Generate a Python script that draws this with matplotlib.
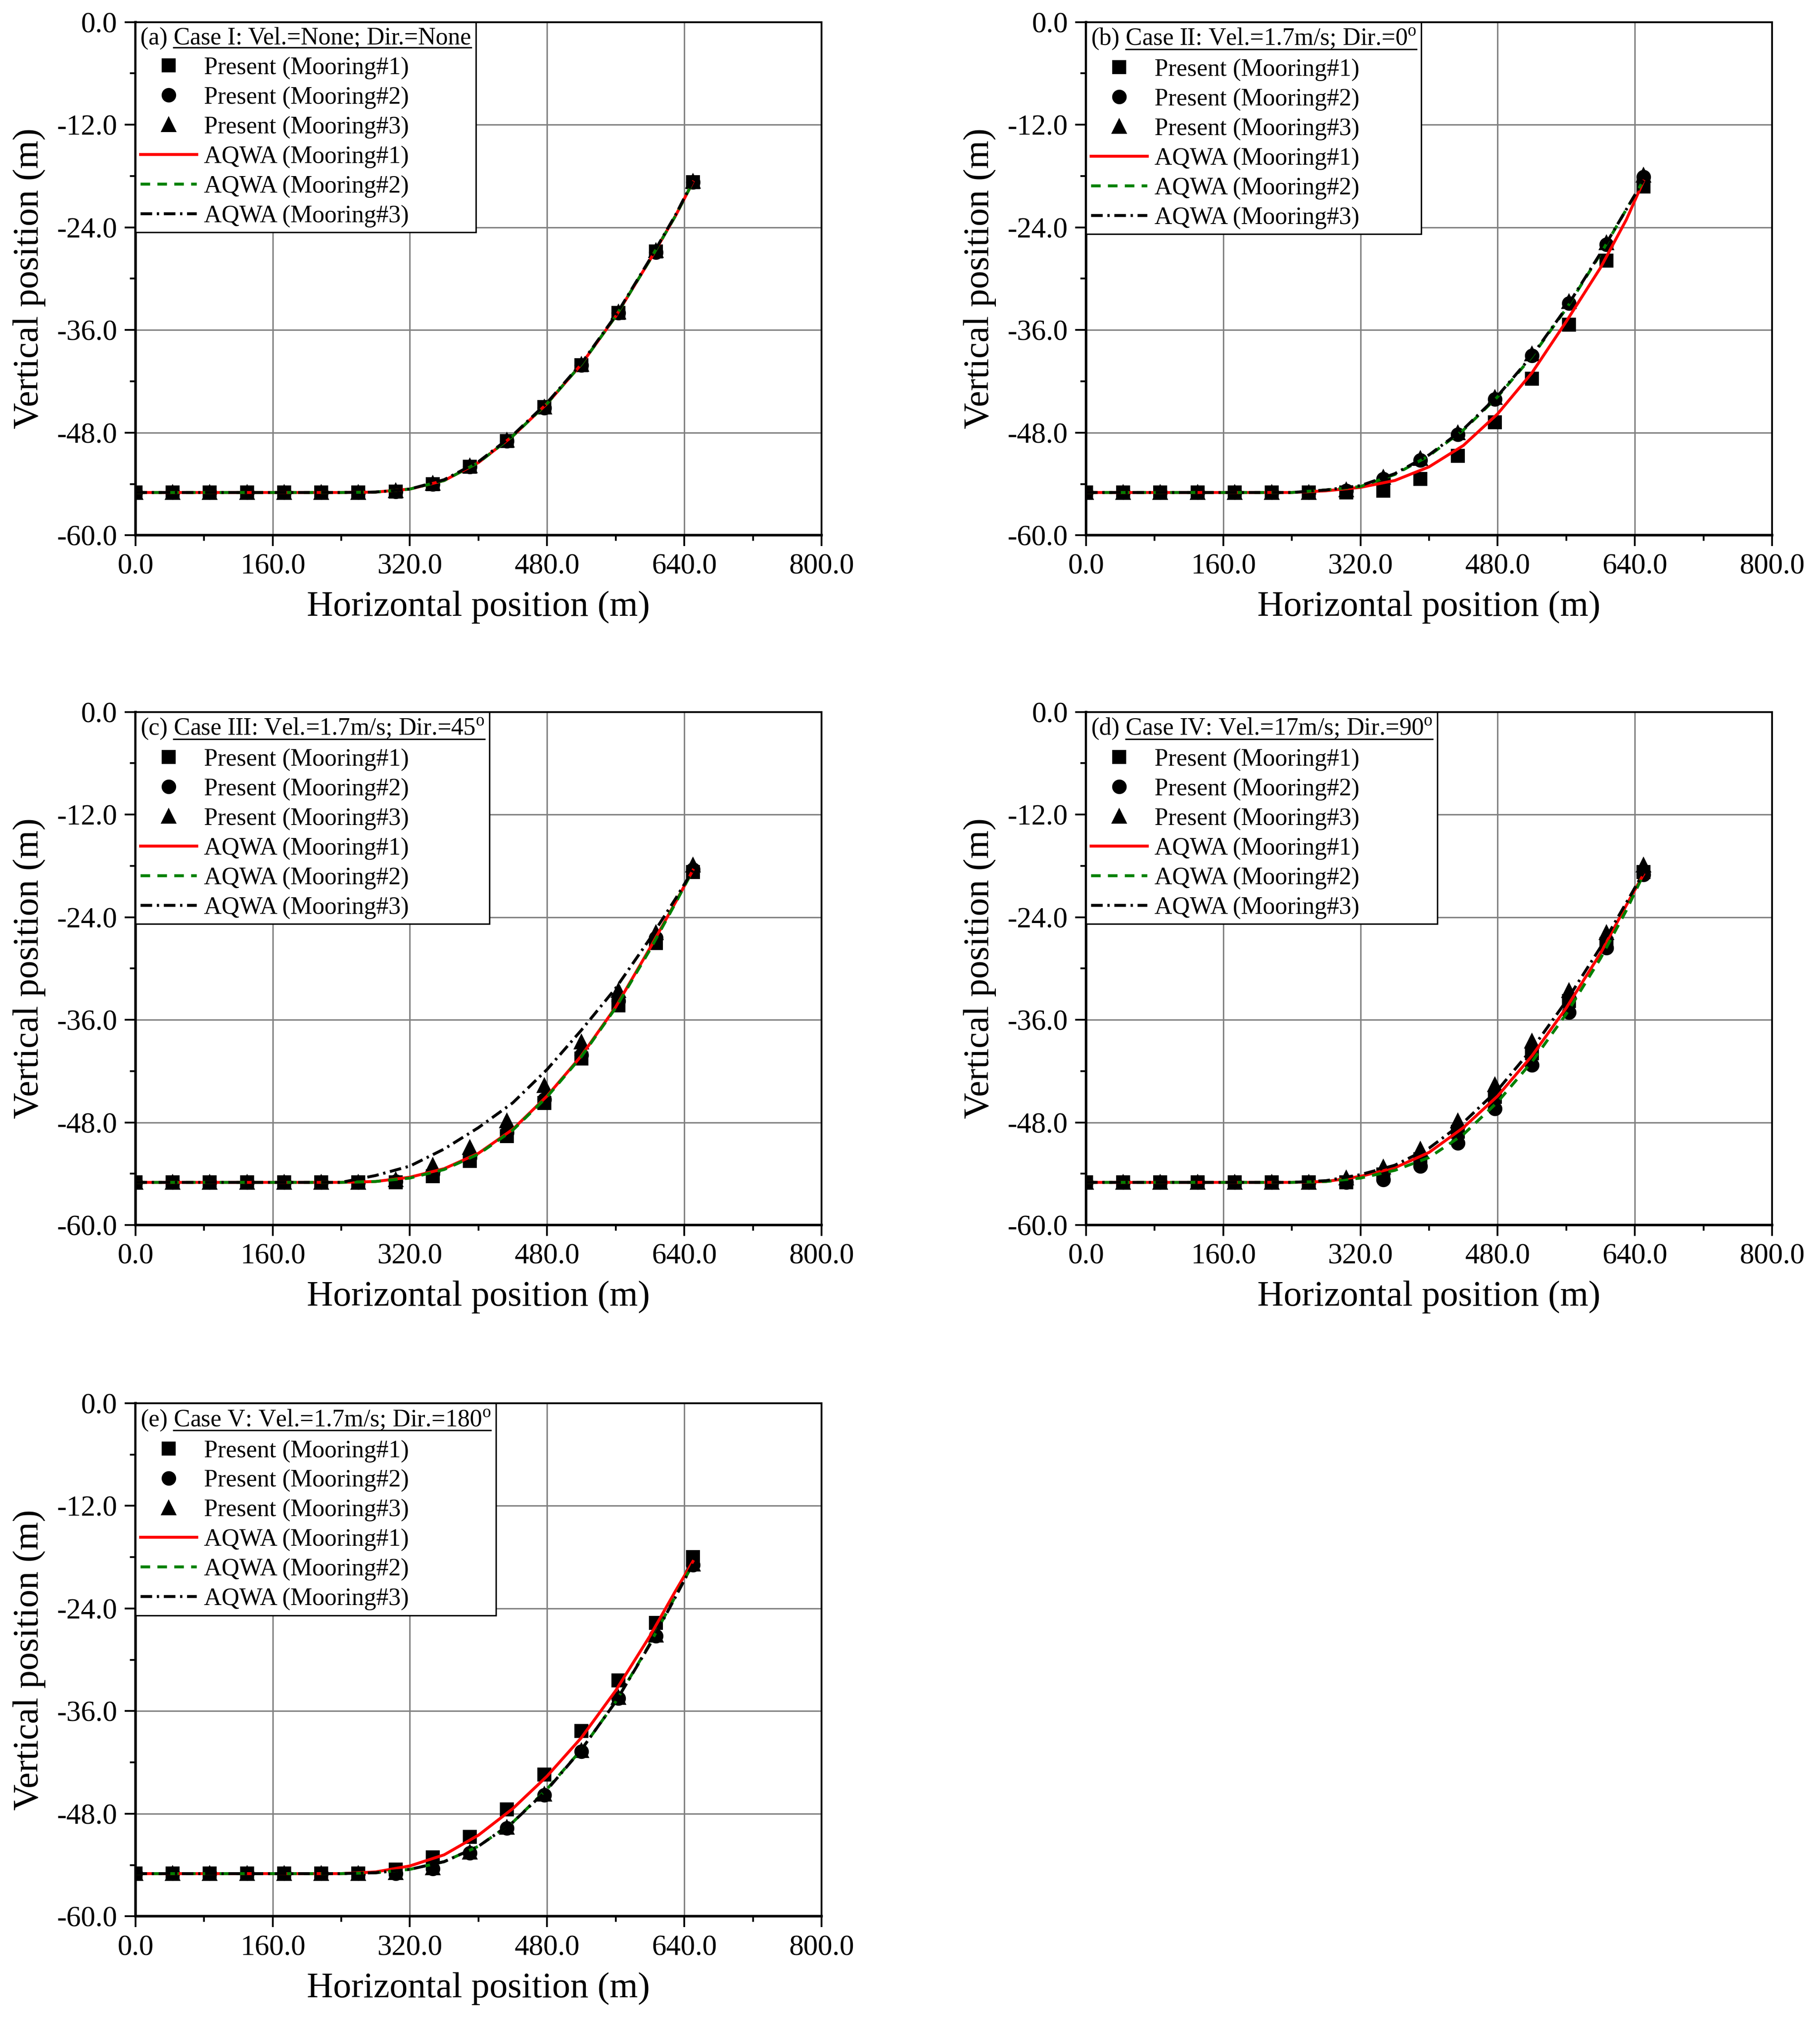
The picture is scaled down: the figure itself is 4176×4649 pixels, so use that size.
import matplotlib
matplotlib.use("Agg")
import matplotlib.pyplot as plt
from matplotlib.lines import Line2D
from matplotlib.ticker import MultipleLocator, FormatStrFormatter

plt.rcParams["font.family"] = ["Liberation Serif", "DejaVu Serif"]
plt.rcParams["mathtext.fontset"] = "custom"
plt.rcParams["mathtext.rm"] = "Liberation Serif"
plt.rcParams["axes.unicode_minus"] = False

X_PTS = [0.0, 43.3, 86.7, 130.0, 173.3, 216.7, 260.0, 303.3,
         346.7, 390.0, 433.3, 476.7, 520.0, 563.3, 606.7, 650.0]
LINE_X = [0, 240, 280, 320, 360, 400, 440, 480, 520, 560, 600, 630, 650]

# (a) Case I
A_P1 = [-55.0, -55.0, -55.0, -55.0, -55.0, -55.0, -55.0, -54.9, -54.0, -52.0, -49.0, -45.0, -40.1, -34.0, -26.8, -18.7]
A_P2 = [-55.0, -55.0, -55.0, -55.0, -55.0, -55.0, -55.0, -54.9, -54.0, -52.0, -49.0, -45.1, -40.1, -34.0, -26.9, -18.7]
A_P3 = [-55.0, -55.0, -55.0, -55.0, -55.0, -55.0, -55.0, -54.8, -53.9, -51.9, -48.9, -45.0, -40.0, -33.9, -26.7, -18.6]
A_L1 = [-55.0, -55.0, -54.95, -54.6, -53.6, -51.5, -48.4, -44.6, -40.0, -34.4, -27.8, -22.6, -18.7]
A_L2 = [-55.0, -55.0, -54.95, -54.6, -53.6, -51.5, -48.4, -44.6, -40.0, -34.4, -27.8, -22.6, -18.7]
A_L3 = [-55.0, -55.0, -54.95, -54.6, -53.5, -51.4, -48.3, -44.5, -39.9, -34.3, -27.7, -22.5, -18.6]

# (b) Case II
B_P1 = [-55.0, -55.0, -55.0, -55.0, -55.0, -55.0, -55.0, -55.0, -54.8, -53.4, -50.7, -46.8, -41.7, -35.4, -27.9, -19.2]
B_P2 = [-55.0, -55.0, -55.0, -55.0, -55.0, -55.0, -55.0, -54.8, -53.4, -51.2, -48.2, -44.1, -39.0, -32.9, -26.0, -18.1]
B_P3 = [-55.0, -55.0, -55.0, -55.0, -55.0, -55.0, -55.0, -54.7, -53.2, -51.0, -48.0, -43.9, -38.8, -32.7, -25.8, -17.9]
B_L1 = [-55.0, -55.0, -54.8, -54.4, -53.6, -52.0, -49.5, -45.8, -41.0, -35.0, -28.7, -23.1, -18.6]
B_L2 = [-55.0, -55.0, -54.7, -54.3, -52.9, -50.7, -47.7, -43.8, -39.1, -33.5, -27.1, -21.9, -18.5]
B_L3 = [-55.0, -55.0, -54.7, -54.2, -52.8, -50.6, -47.6, -43.7, -39.0, -33.4, -27.0, -21.9, -18.5]

# (c) Case III
C_P1 = [-55.0, -55.0, -55.0, -55.0, -55.0, -55.0, -55.0, -55.0, -54.3, -52.5, -49.6, -45.7, -40.5, -34.3, -27.0, -18.7]
C_P2 = [-55.0, -55.0, -55.0, -55.0, -55.0, -55.0, -55.0, -54.9, -54.0, -52.1, -49.2, -45.3, -40.1, -33.8, -26.4, -18.4]
C_P3 = [-55.0, -55.0, -55.0, -55.0, -55.0, -55.0, -55.0, -54.7, -53.0, -50.9, -47.8, -43.7, -38.6, -32.6, -25.8, -17.9]
C_L1 = [-55.0, -55.0, -54.9, -54.4, -53.4, -51.6, -48.8, -44.9, -40.2, -34.5, -27.6, -22.2, -18.5]
C_L2 = [-55.0, -55.0, -54.9, -54.5, -53.5, -51.7, -48.9, -45.0, -40.3, -34.6, -27.8, -22.3, -18.5]
C_L3 = [-55.0, -55.0, -54.2, -53.1, -51.1, -48.6, -45.7, -41.8, -37.2, -32.3, -26.5, -21.8, -18.5]

# (d) Case IV
D_P1 = [-55.0, -55.0, -55.0, -55.0, -55.0, -55.0, -55.0, -55.0, -54.1, -52.3, -49.1, -45.0, -39.9, -33.8, -27.1, -18.7]
D_P2 = [-55.0, -55.0, -55.0, -55.0, -55.0, -55.0, -55.0, -55.0, -54.7, -53.1, -50.4, -46.4, -41.3, -35.1, -27.6, -19.0]
D_P3 = [-55.0, -55.0, -55.0, -55.0, -55.0, -55.0, -55.0, -54.5, -53.2, -51.1, -47.8, -43.6, -38.5, -32.6, -25.8, -17.9]
D_L1 = [-55.0, -55.0, -54.9, -54.3, -53.3, -51.5, -48.6, -44.9, -40.2, -34.6, -28.2, -22.6, -19.0]
D_L2 = [-55.0, -55.0, -54.9, -54.5, -53.6, -52.1, -49.4, -45.6, -40.9, -35.3, -28.8, -23.2, -19.0]
D_L3 = [-55.0, -55.0, -54.8, -54.1, -53.0, -51.0, -48.0, -44.2, -39.4, -33.8, -27.5, -22.3, -18.8]

# (e) Case V
E_P1 = [-55.0, -55.0, -55.0, -55.0, -55.0, -55.0, -55.0, -54.5, -53.1, -50.7, -47.5, -43.4, -38.3, -32.4, -25.7, -18.0]
E_P2 = [-55.0, -55.0, -55.0, -55.0, -55.0, -55.0, -55.0, -55.0, -54.4, -52.6, -49.7, -45.8, -40.7, -34.5, -27.2, -18.9]
E_P3 = [-55.0, -55.0, -55.0, -55.0, -55.0, -55.0, -55.0, -54.9, -54.3, -52.5, -49.6, -45.7, -40.6, -34.4, -27.1, -18.8]
E_L1 = [-55.0, -55.0, -54.8, -54.1, -52.8, -50.5, -47.4, -43.6, -39.1, -33.6, -27.2, -21.9, -18.5]
E_L2 = [-55.0, -55.0, -54.9, -54.5, -53.6, -51.8, -49.0, -45.1, -40.5, -34.9, -28.1, -22.5, -18.8]
E_L3 = [-55.0, -55.0, -54.9, -54.5, -53.6, -51.8, -49.0, -45.2, -40.5, -34.9, -28.2, -22.6, -18.8]

PREFIXES = ["(a)", "(b)", "(c)", "(d)", "(e)"]
CASES = ["Case I: Vel.=None; Dir.=None",
         r"Case II: Vel.=1.7m/s; Dir.=0$^\mathrm{o}$",
         r"Case III: Vel.=1.7m/s; Dir.=45$^\mathrm{o}$",
         r"Case IV: Vel.=17m/s; Dir.=90$^\mathrm{o}$",
         r"Case V: Vel.=1.7m/s; Dir.=180$^\mathrm{o}$"]
LABELS = ["Present (Mooring#1)", "Present (Mooring#2)", "Present (Mooring#3)",
          "AQWA (Mooring#1)", "AQWA (Mooring#2)", "AQWA (Mooring#3)"]

panels = [
    (A_P1, A_P2, A_P3, A_L1, A_L2, A_L3),
    (B_P1, B_P2, B_P3, B_L1, B_L2, B_L3),
    (C_P1, C_P2, C_P3, C_L1, C_L2, C_L3),
    (D_P1, D_P2, D_P3, D_L1, D_L2, D_L3),
    (E_P1, E_P2, E_P3, E_L1, E_L2, E_L3),
]

W, H = 0.3770, 0.2533
positions = [[0.0744, 0.7358, W, H], [0.5967, 0.7358, W, H],
             [0.0744, 0.3953, W, H], [0.5967, 0.3953, W, H],
             [0.0744, 0.0541, W, H]]

fig = plt.figure(figsize=(4176 / 300, 4649 / 300), dpi=300)

ms = 7
lw = 1.6
legends = []
for i, (p1, p2, p3, l1, l2, l3) in enumerate(panels):
    ax = fig.add_axes(positions[i])
    ax.set_axisbelow(True)
    ax.grid(True, which="major", color="#808080", linewidth=0.8)

    h1, = ax.plot(X_PTS, p1, ls="none", marker="s", ms=ms - 0.5, color="black")
    h2, = ax.plot(X_PTS, p2, ls="none", marker="o", ms=ms, color="black")
    h3, = ax.plot(X_PTS, p3, ls="none", marker="^", ms=ms, color="black")
    h4, = ax.plot(LINE_X, l1, color="#ff0000", lw=lw)
    h5, = ax.plot(LINE_X, l2, color="#008000", lw=lw, ls=(0, (3.3, 2.5)))
    h6, = ax.plot(LINE_X, l3, color="black", lw=lw, ls=(0, (4.0, 1.6, 0.8, 1.6)))

    ax.set_xlim(0, 800)
    ax.set_ylim(-60, 0)
    ax.xaxis.set_major_locator(MultipleLocator(160))
    ax.xaxis.set_minor_locator(MultipleLocator(80))
    ax.yaxis.set_major_locator(MultipleLocator(12))
    ax.yaxis.set_minor_locator(MultipleLocator(6))
    ax.xaxis.set_major_formatter(FormatStrFormatter("%.1f"))
    ax.yaxis.set_major_formatter(FormatStrFormatter("%.1f"))
    ax.tick_params(which="both", direction="out", top=False, right=False, width=1.0)
    ax.tick_params(which="major", length=6, labelsize=16, pad=4)
    ax.tick_params(which="minor", length=3.2)
    for side in ["bottom", "left"]:
        ax.spines[side].set_linewidth(1.4)
    for side in ["top", "right"]:
        ax.spines[side].set_linewidth(1.0)

    ax.set_xlabel("Horizontal position (m)", fontsize=20, labelpad=6)
    ax.set_ylabel("Vertical position (m)", fontsize=20, labelpad=6)

    leg = ax.legend([h1, h2, h3, h4, h5, h6], LABELS, loc="upper left",
                    bbox_to_anchor=(0, 1), borderaxespad=0,
                    title=PREFIXES[i] + " " + CASES[i], alignment="left",
                    fontsize=13.5, title_fontsize=13.5, frameon=True,
                    fancybox=False, edgecolor="black", framealpha=1,
                    handlelength=2.3, handletextpad=0.3, labelspacing=0.28,
                    borderpad=0.2, numpoints=1)
    leg.get_frame().set_linewidth(0.8)
    legends.append((leg, PREFIXES[i]))

# underline the case part of each legend title
fig.canvas.draw()
renderer = fig.canvas.get_renderer()
inv = fig.transFigure.inverted()
for leg, prefix in legends:
    t = leg.get_title()
    bb = t.get_window_extent(renderer)
    fp = t.get_fontproperties()
    w1 = renderer.get_text_width_height_descent(prefix + " C", fp, ismath=False)[0]
    w2 = renderer.get_text_width_height_descent("C", fp, ismath=False)[0]
    d = renderer.get_text_width_height_descent("lp", fp, ismath=False)[2]
    x0 = bb.x0 + (w1 - w2)
    x1 = bb.x1
    y = bb.y0 + 0.45 * d
    (fx0, fy), (fx1, _) = inv.transform([(x0, y), (x1, y)])
    fig.add_artist(Line2D([fx0, fx1], [fy, fy], transform=fig.transFigure,
                          color="black", lw=0.8))

fig.savefig("out.png", dpi=300)
